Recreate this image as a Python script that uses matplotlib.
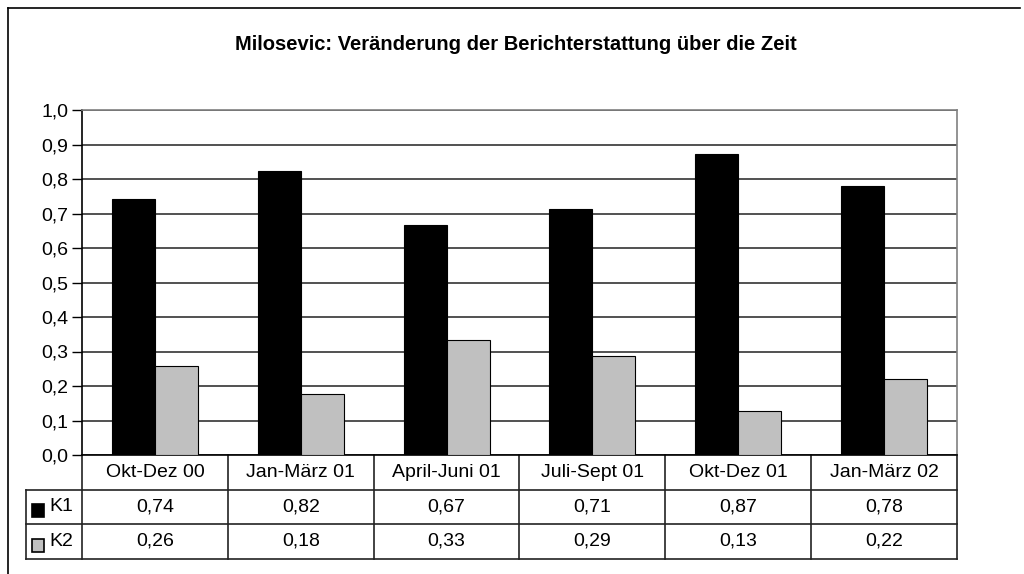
import matplotlib.pyplot as plt
from matplotlib.patches import Rectangle

plt.rcParams['font.family'] = ['Liberation Sans', 'DejaVu Sans']

# data
periods = ['Okt-Dez 00', 'Jan-März 01', 'April-Juni 01', 'Juli-Sept 01', 'Okt-Dez 01', 'Jan-März 02']
k1 = [0.742, 0.822, 0.667, 0.714, 0.873, 0.781]
k2 = [0.258, 0.178, 0.333, 0.286, 0.127, 0.219]
series = ['K1', 'K2']
colors = ['#000000', '#c0c0c0']
yticks = [0.0, 0.1, 0.2, 0.3, 0.4, 0.5, 0.6, 0.7, 0.8, 0.9, 1.0]

W, H = 1024, 574
fig = plt.figure(figsize=(W / 100, H / 100), dpi=100)

# outer chart frame (left and top edges visible)
fig.add_artist(plt.Line2D([8 / W, 1020 / W], [1 - 8 / H, 1 - 8 / H], color='#000000', lw=1.2))
fig.add_artist(plt.Line2D([8 / W, 8 / W], [0, 1 - 8 / H], color='#000000', lw=1.2))

ax = fig.add_axes([82 / W, (H - 455) / H, (957 - 82) / W, (455 - 110) / H])

n = len(periods)
bw = 0.295
x = list(range(n))
ax.bar([i - bw / 2 for i in x], k1, bw, color=colors[0], edgecolor='#000000', lw=0.8, zorder=3)
ax.bar([i + bw / 2 for i in x], k2, bw, color=colors[1], edgecolor='#000000', lw=0.8, zorder=3)

ax.set_xlim(-0.5, n - 0.5)
ax.set_ylim(0, 1.0)
ax.set_yticks(yticks)
ax.set_yticklabels([f'{v:.1f}'.replace('.', ',') for v in yticks], fontsize=14)
ax.set_xticks([])
ax.yaxis.grid(True, color='#222222', lw=1.1, zorder=0)
ax.tick_params(axis='y', length=7, width=1, color='#000000', pad=3)
ax.spines['left'].set_color('#000000')
ax.spines['bottom'].set_color('#000000')
ax.spines['top'].set_color('#808080')
ax.spines['right'].set_color('#808080')
for s in ax.spines.values():
    s.set_linewidth(1.2)

# data table under the plot
rh = 0.1
left = -0.884
lc = '#222222'
kw = dict(color=lc, lw=1.2, clip_on=False)
ax.plot([left, n - 0.5], [-rh, -rh], **kw)
ax.plot([left, n - 0.5], [-2 * rh, -2 * rh], **kw)
ax.plot([left, n - 0.5], [-3 * rh, -3 * rh], **kw)
for b in range(n + 1):
    ax.plot([b - 0.5, b - 0.5], [0, -3 * rh], **kw)
ax.plot([left, left], [-rh, -3 * rh], **kw)

for i, p in enumerate(periods):
    ax.text(i, -0.5 * rh, p, ha='center', va='center', fontsize=14, clip_on=False)
    ax.text(i, -1.5 * rh, f'{k1[i]:.2f}'.replace('.', ','), ha='center', va='center', fontsize=14)
    ax.text(i, -2.5 * rh, f'{k2[i]:.2f}'.replace('.', ','), ha='center', va='center', fontsize=14)

# legend keys in the row labels
for r, (name, c) in enumerate(zip(series, colors)):
    yc = -(1.5 + r) * rh
    ax.add_patch(Rectangle((left + 0.041, yc - 0.0116 - 0.019), 0.085, 0.038, facecolor=c,
                           edgecolor='#000000', lw=1.2, clip_on=False))
    ax.text(left + 0.16, yc, name, ha='left', va='center', fontsize=14)

fig.text(516 / W, 1 - 45 / H, 'Milosevic: Veränderung der Berichterstattung über die Zeit',
         ha='center', va='center', fontsize=14.5, fontweight='bold')

fig.savefig('out.png', dpi=100)
